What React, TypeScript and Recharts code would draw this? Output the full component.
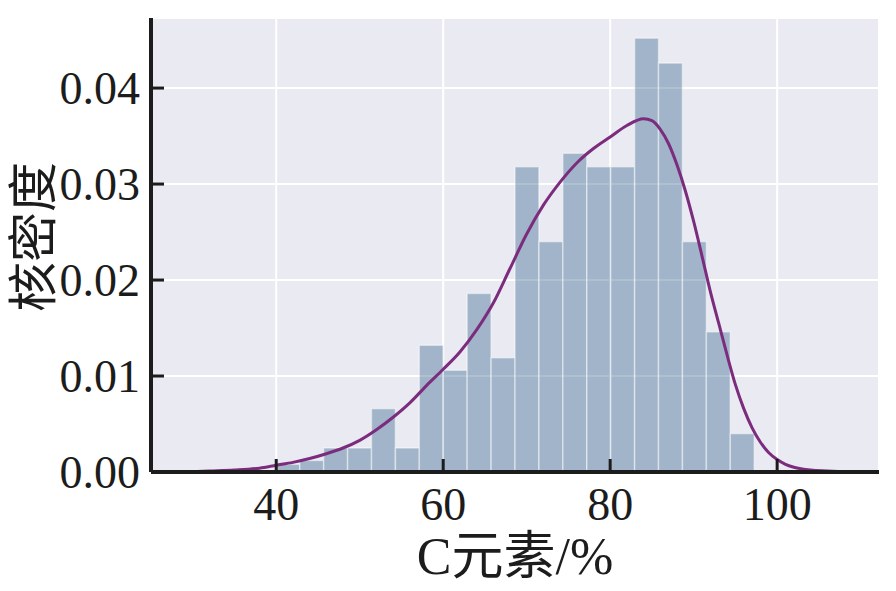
import React from 'react';
import { ComposedChart, Bar, Line, XAxis, YAxis, CartesianGrid } from 'recharts';

// histogram: bin centres and density heights
const binCenters = [41.38, 44.25, 47.11, 49.98, 52.84, 55.71, 58.57, 61.44, 64.3, 67.17,
  70.03, 72.9, 75.76, 78.63, 81.49, 84.36, 87.22, 90.09, 92.95, 95.82];
const binDensity = [0.0008, 0.0012, 0.0025, 0.0025, 0.0066, 0.0025, 0.0132, 0.0106, 0.0186, 0.0119,
  0.0318, 0.024, 0.0332, 0.0318, 0.0318, 0.0452, 0.0426, 0.024, 0.0146, 0.004];

// kernel density curve
const kdeX = [29, 32, 35, 38, 40, 42, 44, 46, 48, 50, 52, 54, 56, 58, 60, 62, 64, 66, 68, 70,
  72, 74, 76, 78, 80, 82, 84, 85, 86, 87, 88, 89, 90, 91, 92, 93, 94, 95, 96, 97,
  98, 99, 100, 101, 102, 104, 106, 108.7];
const kdeY = [0, 0.0001, 0.0002, 0.0004, 0.0007, 0.001, 0.0014, 0.0019, 0.0025, 0.0033,
  0.0044, 0.0057, 0.0072, 0.009, 0.0107, 0.0125, 0.0148, 0.0176, 0.0212, 0.0248,
  0.0278, 0.0302, 0.0322, 0.0337, 0.0349, 0.0361, 0.0368, 0.0366, 0.0357, 0.0342,
  0.032, 0.0293, 0.0261, 0.0225, 0.0188, 0.0155, 0.0122, 0.0091, 0.0066, 0.0046,
  0.0031, 0.002, 0.0013, 0.0008, 0.0005, 0.0002, 0.0001, 0];

const xTicks = [40, 60, 80, 100];
const yTicks = [0, 0.01, 0.02, 0.03, 0.04];

const W = 896;
const H = 591;
const MARGIN = { top: 18, right: 17, left: 0, bottom: 0 };
const Y_AXIS_W = 151;
const X_AXIS_H = 119;
const X_DOMAIN: [number, number] = [25.0, 112.2];
const Y_DOMAIN: [number, number] = [0, 0.0473];
const BIN_WIDTH = 2.865;

const FONT = "'Liberation Serif', 'Noto Sans CJK SC', serif";
const INK = '#1c1c1c';

const plotLeft = MARGIN.left + Y_AXIS_W;
const plotRight = W - MARGIN.right;
const plotBottom = H - MARGIN.bottom - X_AXIS_H;
// one bin width expressed in pixels of the x scale
const barPx = (BIN_WIDTH * (plotRight - plotLeft)) / (X_DOMAIN[1] - X_DOMAIN[0]);

const histData = binCenters.map((x, i) => ({ x, density: binDensity[i] }));
const kdeData = kdeX.map((x, i) => ({ x, kde: kdeY[i] }));

// bar centred on its bin, full bin width (recharts shrinks bars on number axes)
const HistBar = (props: any) => {
  const { x, y, width, height } = props;
  if (!height || height <= 0) return null;
  const cx = x + width / 2;
  return (
    <rect
      x={cx - barPx / 2}
      y={y}
      width={barPx}
      height={height}
      fill="#34658c"
      fillOpacity={0.4}
      stroke="#ffffff"
      strokeOpacity={0.45}
      strokeWidth={1.5}
    />
  );
};

const XTick = (props: any) => {
  const { x, payload } = props;
  return (
    <g>
      <line x1={x} x2={x} y1={plotBottom} y2={plotBottom - 13} stroke={INK} strokeWidth={3} />
      <text x={x} y={plotBottom + 48} textAnchor="middle" fontSize={46} fill={INK} fontFamily={FONT}>
        {payload.value}
      </text>
    </g>
  );
};

const YTick = (props: any) => {
  const { y, payload } = props;
  return (
    <g>
      <line x1={plotLeft} x2={plotLeft + 13} y1={y} y2={y} stroke={INK} strokeWidth={3} />
      <text x={plotLeft - 11} y={y} dy="0.35em" textAnchor="end" fontSize={46} fill={INK} fontFamily={FONT}>
        {Number(payload.value).toFixed(2)}
      </text>
    </g>
  );
};

export default function App() {
  return (
    <div style={{ position: 'absolute', left: 0, top: 0, width: W, height: H, background: '#fff' }}>
      <ComposedChart width={W} height={H} data={histData} margin={MARGIN}>
        <CartesianGrid fill="#EAEAF2" stroke="#ffffff" strokeWidth={2} />
        <Bar dataKey="density" shape={<HistBar />} isAnimationActive={false} />
        <Line
          data={kdeData}
          dataKey="kde"
          type="monotone"
          stroke="#7b2c7d"
          strokeWidth={3}
          dot={false}
          activeDot={false}
          isAnimationActive={false}
        />
        <XAxis
          dataKey="x"
          type="number"
          domain={X_DOMAIN}
          allowDataOverflow
          ticks={xTicks}
          interval={0}
          height={X_AXIS_H}
          tickSize={0}
          tickLine={false}
          axisLine={{ stroke: INK, strokeWidth: 4 }}
          tick={<XTick />}
          label={{
            content: () => (
              <text x={(plotLeft + plotRight) / 2} y={574} textAnchor="middle" fontSize={52} fill={INK} fontFamily={FONT}>
                C元素/%
              </text>
            ),
          }}
        />
        <YAxis
          type="number"
          domain={Y_DOMAIN}
          allowDataOverflow
          ticks={yTicks}
          interval={0}
          width={Y_AXIS_W}
          tickSize={0}
          tickLine={false}
          axisLine={{ stroke: INK, strokeWidth: 4 }}
          tick={<YTick />}
          label={{
            content: () => (
              <text
                x={34}
                y={237}
                transform="rotate(-90 34 237)"
                textAnchor="middle"
                dominantBaseline="central"
                fontSize={50}
                fill={INK}
                fontFamily={FONT}
              >
                核密度
              </text>
            ),
          }}
        />
      </ComposedChart>
    </div>
  );
}
